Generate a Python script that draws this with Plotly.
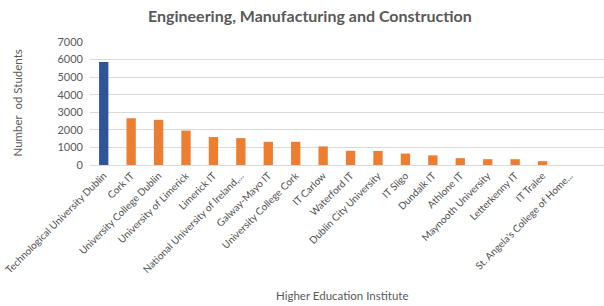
import plotly.graph_objects as go

institutes = [
    "Technological University Dublin", "Cork IT", "University College Dublin",
    "University of Limerick", "Limerick IT", "National University of Ireland,...",
    "Galway-Mayo IT", "University College Cork", "IT Carlow", "Waterford IT",
    "Dublin City University", "IT Sligo", "Dundalk IT", "Athlone IT",
    "Maynooth University", "Letterkenny IT", "IT Tralee", "St. Angela's College of Home...",
]
students = [5860, 2660, 2570, 1960, 1590, 1530, 1320, 1320, 1060, 810, 800, 650, 550, 390, 330, 330, 220, 0]
bar_colors = ["#2E5597"] + ["#ED7D31"] * (len(institutes) - 1)
y_ticks = [0, 1000, 2000, 3000, 4000, 5000, 6000, 7000]

font_family = "Lato, 'Open Sans', sans-serif"
grey = "#595959"

fig = go.Figure(go.Bar(
    x=list(range(len(institutes))), y=students,
    marker=dict(color=bar_colors, line=dict(width=0)),
    width=0.34,
))

fig.update_layout(
    width=604, height=306,
    margin=dict(l=90, r=0, t=42, b=141),
    paper_bgcolor="white", plot_bgcolor="white",
    showlegend=False,
    title=dict(text="<b>Engineering, Manufacturing and Construction</b>",
               x=0.513, xanchor="center", y=0.945, yanchor="middle",
               font=dict(family=font_family, size=16, color=grey)),
    font=dict(family=font_family, color=grey),
)
fig.update_xaxes(
    range=[-0.5, 18.24],
    tickmode="array", tickvals=list(range(len(institutes))), ticktext=institutes,
    tickangle=-45, tickfont=dict(size=10, color="#505050"),
    ticklabeloverflow="allow",
    showgrid=False, showline=True, linecolor="#D9D9D9", linewidth=1,
    ticks="", zeroline=False, automargin=False,
)
fig.update_yaxes(
    range=[0, 7000], tickvals=y_ticks,
    tickfont=dict(size=11, color=grey),
    ticklabelstandoff=6,
    showgrid=True, gridcolor="#D9D9D9", gridwidth=1,
    zeroline=False, showline=False, ticks="", ticklen=0,
    automargin=False,
)
fig.add_annotation(text="Number  od Students", xref="paper", yref="paper",
                   x=-0.142, y=0.5, xanchor="center", yanchor="middle",
                   textangle=-90, showarrow=False,
                   font=dict(family=font_family, size=11.5, color=grey))
fig.add_annotation(text="Higher Education Institute", xref="paper", yref="paper",
                   x=0.49, y=-1.06, xanchor="center", yanchor="middle",
                   showarrow=False,
                   font=dict(family=font_family, size=11.5, color=grey))

fig.write_html("out.html", config={"displayModeBar": False},
               post_script="document.body.style.margin='0';document.body.style.overflow='hidden';")
